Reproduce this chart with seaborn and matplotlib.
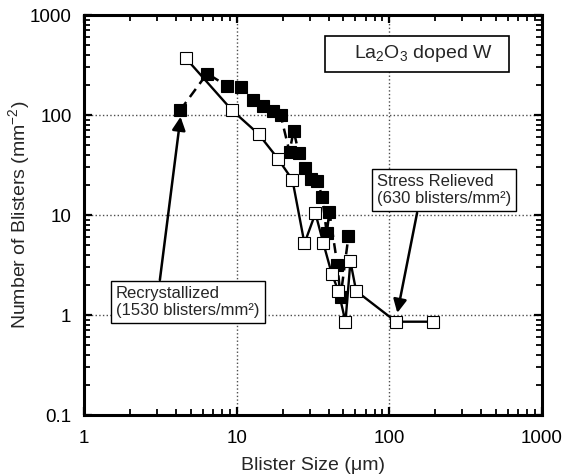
import matplotlib
matplotlib.use('Agg')
import matplotlib.pyplot as plt
import seaborn as sns
import pandas as pd
from matplotlib.patches import Rectangle

# Recrystallized (filled squares, dashed line)
rec_size = [4.27, 6.41, 8.6, 10.7, 12.8, 14.9, 17.3, 19.4, 22.2, 23.6, 25.5, 28.2,
            30.5, 33.8, 36.3, 38.9, 40.5, 45.7, 47.9, 54.0]
rec_count = [112, 260, 196, 192, 141, 124, 110, 100, 42.7, 69.7, 42, 29.3,
             23, 22, 15.2, 6.56, 10.8, 3.13, 1.51, 6.17]

# Stress relieved (open squares, solid line)
rel_size = [4.63, 9.3, 13.9, 18.6, 23.2, 27.8, 32.8, 37.0, 42.0, 46.4, 51.6, 55.6,
            60.6, 110.6, 192]
rel_count = [372, 112, 64.6, 36.7, 22.4, 5.2, 10.4, 5.2, 2.57, 1.74, 0.857, 3.43,
             1.74, 0.857, 0.857]

x_ticks = [1, 10, 100, 1000]
x_tick_labels = ['1', '10', '100', '1000']
y_ticks = [0.1, 1, 10, 100, 1000]
y_tick_labels = ['0.1', '1', '10', '100', '1000']

sns.set_style('ticks')
plt.rcParams['font.family'] = ['Liberation Sans', 'DejaVu Sans']
plt.rcParams['mathtext.fontset'] = 'custom'
plt.rcParams['mathtext.rm'] = 'Liberation Sans'
plt.rcParams['mathtext.it'] = 'Liberation Sans'

rec_df = pd.DataFrame({'size': rec_size, 'count': rec_count})
rel_df = pd.DataFrame({'size': rel_size, 'count': rel_count})

fig, ax = plt.subplots(figsize=(5.77, 4.76), dpi=100)
fig.subplots_adjust(left=84/577, right=542/577, bottom=1-415/476, top=1-15/476)

ax.set_xscale('log')
ax.set_yscale('log')

sns.lineplot(data=rec_df, x='size', y='count', ax=ax, estimator=None, sort=False,
             color='black', linestyle='--', linewidth=1.8, marker='s', markersize=8,
             markerfacecolor='black', markeredgecolor='black', markeredgewidth=0.8, zorder=3)
ax.lines[-1].set_dashes([4, 2.5])
sns.lineplot(data=rel_df, x='size', y='count', ax=ax, estimator=None, sort=False,
             color='black', linestyle='-', linewidth=1.7, marker='s', markersize=8,
             markerfacecolor='white', markeredgecolor='black', markeredgewidth=0.8, zorder=4)

ax.set_xlim(1, 1000)
ax.set_ylim(0.1, 1000)
ax.set_xticks(x_ticks, labels=x_tick_labels)
ax.set_yticks(y_ticks, labels=y_tick_labels)

ax.grid(True, which='major', linestyle=':', color='0.3', linewidth=1)
ax.set_axisbelow(True)
for s in ax.spines.values():
    s.set_linewidth(2.2)
    s.set_color('black')
ax.tick_params(which='both', direction='in', top=True, right=True, labelsize=13.5,
               colors='black')
ax.tick_params(axis='x', which='both', pad=11)
ax.tick_params(axis='y', which='both', pad=9)
ax.tick_params(which='major', length=6, width=1.6)
ax.tick_params(which='minor', length=4, width=1.3)

ax.set_xlabel('Blister Size (\u03bcm)', fontsize=14, labelpad=7)
ax.set_ylabel('Number of Blisters (mm$^{-2}$)', fontsize=14)
ax.yaxis.set_label_coords(-0.113, 0.5)

# sample label box
ax.add_patch(Rectangle((0.526, 0.8575), 0.402, 0.09, transform=ax.transAxes,
                       facecolor='white', edgecolor='black', linewidth=1.2, zorder=5))
ax.text(0.741, 0.9025, 'La$_2$O$_3$ doped W', transform=ax.transAxes, fontsize=14,
        ha='center', va='center', zorder=6)

box = dict(boxstyle='square,pad=0.3', facecolor='white', edgecolor='black', linewidth=1.0)
ax.text(0.07, 0.2825, 'Recrystallized\n(1530 blisters/mm\u00b2)', transform=ax.transAxes,
        fontsize=12, ha='left', va='center', bbox=box, zorder=6)
ax.text(0.640, 0.5625, 'Stress Relieved\n(630 blisters/mm\u00b2)', transform=ax.transAxes,
        fontsize=12, ha='left', va='center', bbox=box, zorder=6)

arrow = dict(arrowstyle='-|>', color='black', lw=1.8, mutation_scale=20, shrinkA=0, shrinkB=0)
ax.annotate('', xy=(4.29, 96), xytext=(3.14, 2.24), arrowprops=arrow, zorder=7)
ax.annotate('', xy=(112.8, 1.05), xytext=(152, 10.5), arrowprops=arrow, zorder=7)

fig.savefig('out.png', dpi=100)
